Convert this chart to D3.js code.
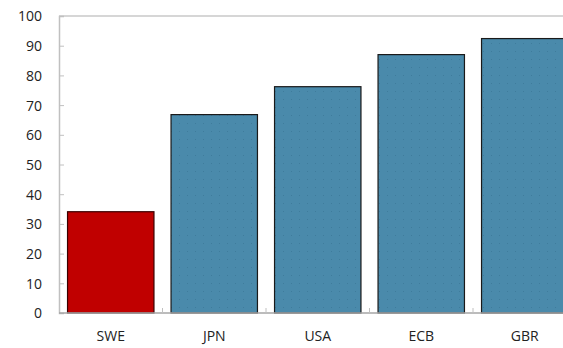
<!DOCTYPE html>
<html>
<head>
<meta charset="utf-8">
<script src="https://cdn.jsdelivr.net/npm/d3@7"></script>
<style>
  body { margin: 0; background: #fff; }
  svg text { font-family: "Open Sans", sans-serif; font-size: 14px; fill: #222; }
</style>
</head>
<body>
<div id="chart"></div>
<script>
// data
var categories = ["SWE", "JPN", "USA", "ECB", "GBR"];
var values = [34.1, 66.8, 76.2, 87.0, 92.4];
var yTicks = [0, 10, 20, 30, 40, 50, 60, 70, 80, 90, 100];

var width = 563, height = 348;
var margin = {top: 16, left: 59, bottom: 35};
var plotRight = 576.5; // plot runs past the right edge

var svg = d3.select("#chart").append("svg").attr("width", width).attr("height", height);

var defs = svg.append("defs");
var pat = defs.append("pattern").attr("id", "dots").attr("patternUnits", "userSpaceOnUse")
    .attr("width", 8).attr("height", 8);
pat.append("rect").attr("width", 8).attr("height", 8).attr("fill", "#4a8aab");
pat.append("rect").attr("x", 3).attr("y", 3).attr("width", 1).attr("height", 1).attr("fill", "#3f7c9c");

var x = d3.scaleBand().domain(categories).range([margin.left, plotRight])
    .paddingInner(0.165).paddingOuter(0.0825);
var y = d3.scaleLinear().domain([0, 100]).range([height - margin.bottom, margin.top]);

// top border
svg.append("line").attr("x1", margin.left).attr("x2", width).attr("y1", y(100)).attr("y2", y(100))
    .attr("stroke", "#c8c8c8").attr("stroke-width", 1.5);

// bars
svg.selectAll(".bar").data(categories).enter().append("rect")
    .attr("class", "bar")
    .attr("x", function(d) { return x(d); })
    .attr("y", function(d, i) { return y(values[i]); })
    .attr("width", x.bandwidth())
    .attr("height", function(d, i) { return y(0) - y(values[i]); })
    .attr("fill", function(d) { return d == "SWE" ? "#c00000" : "url(#dots)"; })
    .attr("stroke", function(d) { return d == "SWE" ? "#3a0000" : "#1a1a1a"; })
    .attr("stroke-width", 1.2);

// y axis
var yAxis = svg.append("g").attr("transform", "translate(" + margin.left + ",0)")
    .call(d3.axisRight(y).tickValues(yTicks).tickSize(5).tickFormat(d3.format("d")));
yAxis.select(".domain").attr("stroke", "#c0c0c0").attr("stroke-width", 1.5);
yAxis.selectAll(".tick line").attr("stroke", "#c0c0c0");
yAxis.selectAll(".tick text").attr("x", -17).attr("text-anchor", "end").attr("dy", "0.35em");

// x axis
var xAxis = svg.append("g").attr("transform", "translate(0," + y(0) + ")")
    .call(d3.axisBottom(x).tickSize(0).tickPadding(0));
xAxis.select(".domain").remove();
xAxis.selectAll(".tick text").attr("y", 28).attr("dy", 0);
xAxis.append("line").attr("x1", margin.left).attr("x2", width).attr("stroke", "#a6a6a6").attr("stroke-width", 1.5);
var step = x.step();
xAxis.selectAll(".sep").data(categories.slice(1)).enter().append("line")
    .attr("class", "sep")
    .attr("x1", function(d) { return x(d) - (step - x.bandwidth()) / 2; })
    .attr("x2", function(d) { return x(d) - (step - x.bandwidth()) / 2; })
    .attr("y1", 0).attr("y2", -5).attr("stroke", "#c0c0c0");
</script>
</body>
</html>
